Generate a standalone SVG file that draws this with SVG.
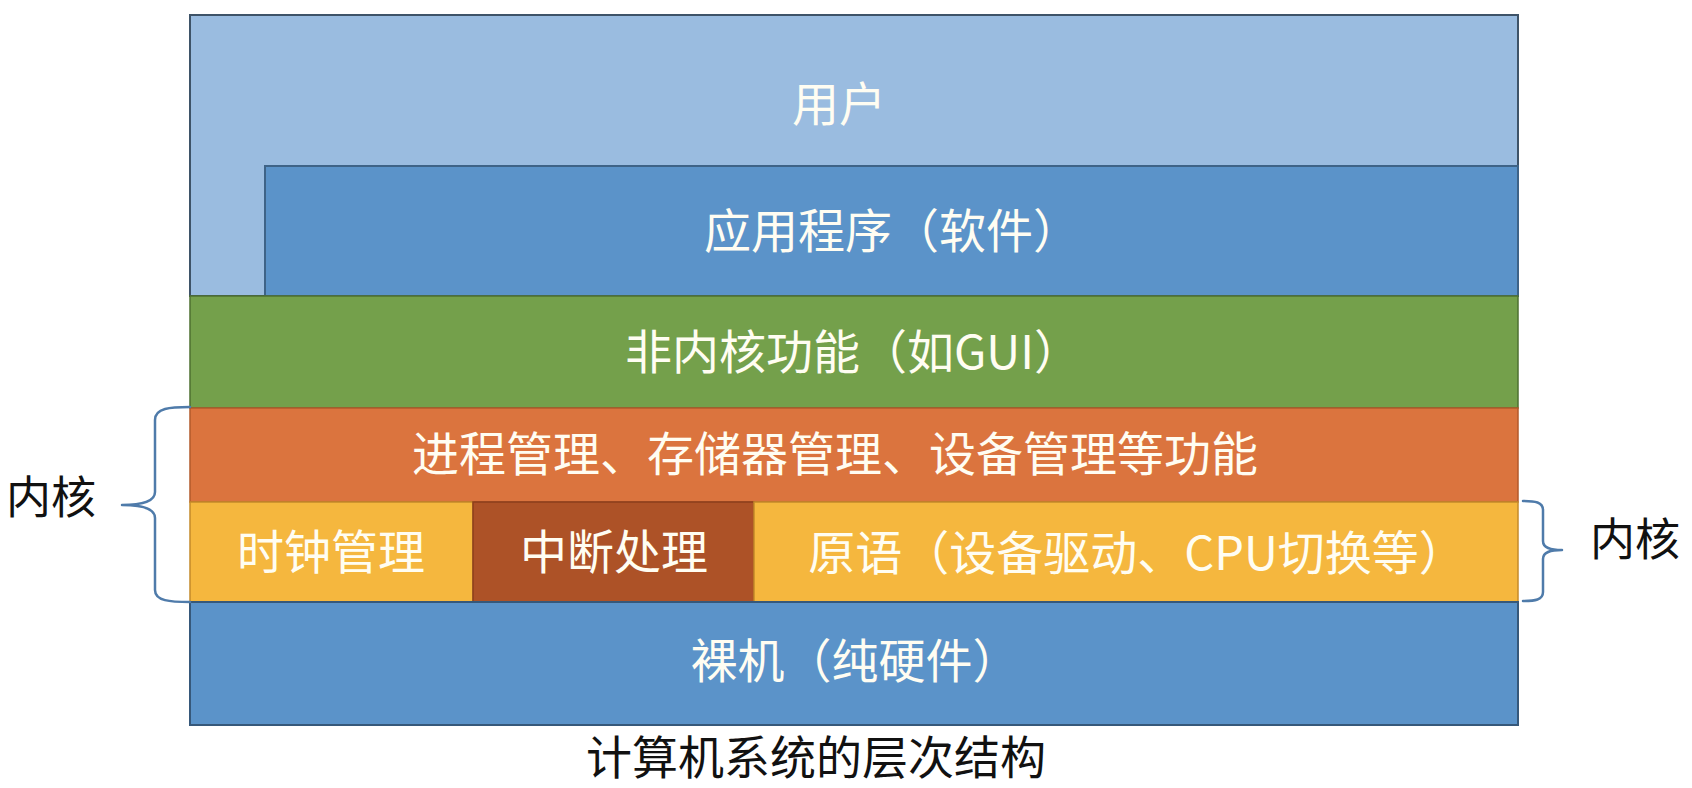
<svg xmlns="http://www.w3.org/2000/svg" width="1692" height="788" viewBox="0 0 1692 788">
  <style>
    .lbl { font-family: "Noto Sans CJK SC", "Noto Sans", sans-serif; font-size: 47px; fill: #FFFDF2; text-anchor: middle; }
    .side { font-family: "Noto Sans CJK SC", "Noto Sans", sans-serif; font-size: 45px; fill: #111111; text-anchor: middle; }
    .brace { fill: none; stroke: #4F7BAA; stroke-width: 2.5; stroke-linecap: round; stroke-linejoin: round; }
  </style>
  <rect x="0" y="0" width="1692" height="788" fill="#FFFFFF"/>
  <g id="user">
    <rect x="190" y="15" width="1328" height="281" fill="#9ABCE0" stroke="#3E5368" stroke-width="2"/>
    <text class="lbl" x="839" y="121">用户</text>
  </g>
  <g id="app">
    <rect x="265" y="166" width="1253" height="130" fill="#5B93C9" stroke="#3E6387" stroke-width="2"/>
    <text class="lbl" x="892" y="248">应用程序（软件）</text>
  </g>
  <g id="nonkernel">
    <rect x="190" y="296" width="1328" height="112" fill="#74A04B" stroke="#4E7030" stroke-width="1.5"/>
    <text class="lbl" x="853" y="369">非内核功能（如GUI）</text>
  </g>
  <g id="kernel-mgmt">
    <rect x="190" y="408" width="1328" height="94" fill="#DB743E" stroke="#B3592B" stroke-width="1.5"/>
    <text class="lbl" x="835" y="471">进程管理、存储器管理、设备管理等功能</text>
  </g>
  <g id="clock">
    <rect x="190" y="502" width="283" height="100" fill="#F5B73E" stroke="#C48A2A" stroke-width="1.5"/>
    <text class="lbl" x="331" y="569">时钟管理</text>
  </g>
  <g id="interrupt">
    <rect x="473" y="502" width="281" height="100" fill="#AD5227" stroke="#8C3F1C" stroke-width="1.5"/>
    <text class="lbl" x="614" y="569">中断处理</text>
  </g>
  <g id="primitive">
    <rect x="754" y="502" width="764" height="100" fill="#F5B73E" stroke="#C48A2A" stroke-width="1.5"/>
    <text class="lbl" x="1137" y="570">原语（设备驱动、CPU切换等）</text>
  </g>
  <g id="bare">
    <rect x="190" y="602" width="1328" height="123" fill="#5B93C9" stroke="#36587A" stroke-width="2"/>
    <text class="lbl" x="855" y="678">裸机（纯硬件）</text>
  </g>
  <g id="connectors">
    <path class="brace" d="M190,407 C170,407 155,408 155,420 L155,492 C155,502 140,505 122,505 C140,505 155,508 155,518 L155,590 C155,601 170,602 190,602"/>
    <path class="brace" d="M1523,501 C1535,501 1543,502 1543,510 L1543,541 C1543,548 1550,550 1562,550 C1550,550 1543,552 1543,559 L1543,592 C1543,600 1535,601 1523,601"/>
  </g>
  <g id="kernel-left">
    <text class="side" x="51" y="514">内核</text>
  </g>
  <g id="kernel-right">
    <text class="side" x="1635" y="556">内核</text>
  </g>
  <g id="caption">
    <text class="side" x="816" y="774" style="font-size:46px">计算机系统的层次结构</text>
  </g>
</svg>
